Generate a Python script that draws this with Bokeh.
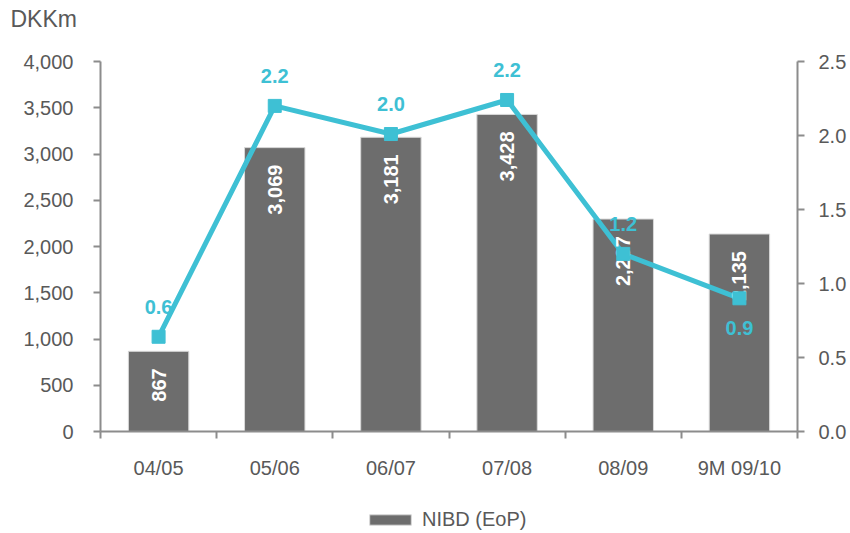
import math
from bokeh.plotting import figure
from bokeh.models import (Range1d, LinearAxis, FixedTicker, Legend, LegendItem,
                          ColumnDataSource, Label, NumeralTickFormatter)
from bokeh.core.properties import value
from bokeh.embed import file_html
from bokeh.resources import INLINE

categories = ["04/05", "05/06", "06/07", "07/08", "08/09", "9M 09/10"]
nibd = [867, 3069, 3181, 3428, 2297, 2135]
ratio = [0.64, 2.2, 2.01, 2.24, 1.2, 0.9]
ratio_labels = ["0.6", "2.2", "2.0", "2.2", "1.2", "0.9"]
ratio_label_below = [False, False, False, False, False, True]
left_ticks = [0, 500, 1000, 1500, 2000, 2500, 3000, 3500, 4000]
right_ticks = [0.0, 0.5, 1.0, 1.5, 2.0, 2.5]
left_max = 4000
right_max = 2.5

BAR = "#6d6d6d"
LINE = "#3ec0d4"
TXT = "#595959"
AX = "#8c8c8c"
FONT = "Liberation Sans"

n = len(categories)
xc = [i + 0.5 for i in range(n)]

# whole canvas is the frame; axes are drawn at fixed data locations inside it
W, H = 850, 533
PL, PR, PT, PB = 100, 797, 61, 431   # plot-area edges in pixels
xs = (PR - PL) / n
ys_l = (PB - PT) / left_max
ys_r = (PB - PT) / right_max

p = figure(width=W, height=H, frame_width=W, frame_height=H,
           output_backend="svg", toolbar_location=None,
           x_range=Range1d(-PL / xs, (W - PL) / xs),
           y_range=Range1d(-(H - PB) / ys_l, PB / ys_l),
           min_border=0)
p.outline_line_color = None
p.xgrid.visible = False
p.ygrid.visible = False
p.background_fill_color = "white"
p.border_fill_color = "white"

p.extra_y_ranges = {"r": Range1d(-(H - PB) / ys_r, PB / ys_r)}

bar_src = ColumnDataSource(dict(x=xc, top=nibd, lab=[f"{v:,}" for v in nibd]))
bars = p.vbar(x="x", top="top", width=0.52, source=bar_src, fill_color=BAR,
              line_color="#d9d9d9", line_width=1)

line_src = ColumnDataSource(dict(x=xc, y=ratio, lab=ratio_labels,
                                 off=[30 if b else -30 for b in ratio_label_below]))
p.line(x="x", y="y", source=line_src, y_range_name="r", line_color=LINE, line_width=5)

p.text(x="x", y="top", text="lab", source=bar_src, angle=math.pi / 2,
       text_align="right", text_baseline="middle", y_offset=17,
       text_color="white", text_font=value(FONT), text_font_size="20px",
       text_font_style="bold")

p.scatter(x="x", y="y", source=line_src, y_range_name="r", marker="square", size=13,
          fill_color=LINE, line_color=LINE)
p.text(x="x", y="y", text="lab", source=line_src, y_range_name="r", y_offset="off",
       text_align="center", text_baseline="middle", text_color=LINE,
       text_font=value(FONT), text_font_size="20px", text_font_style="bold")

def style(ax):
    ax.axis_line_color = AX
    ax.axis_line_width = 2
    ax.major_tick_line_color = AX
    ax.major_tick_line_width = 2
    ax.major_tick_out = 7
    ax.major_tick_in = 0
    ax.minor_tick_line_color = None
    ax.major_label_text_color = TXT
    ax.major_label_text_font = FONT
    ax.major_label_text_font_size = "20px"

# left axis
ly = p.yaxis[0]
style(ly)
ly.ticker = FixedTicker(ticks=left_ticks)
ly.formatter = NumeralTickFormatter(format="0,0")
ly.major_label_standoff = 20
ly.fixed_location = 0
ly.bounds = (0, left_max)

# right axis
ry = LinearAxis(y_range_name="r", ticker=FixedTicker(ticks=right_ticks),
                formatter=NumeralTickFormatter(format="0.0"))
style(ry)
ry.major_label_standoff = 14
ry.fixed_location = n
ry.bounds = (0, right_max)
p.add_layout(ry, "right")

# bottom axis: labels at centers, ticks at boundaries
bx = p.xaxis[0]
style(bx)
bx.ticker = FixedTicker(ticks=xc, minor_ticks=list(range(n + 1)))
bx.major_label_overrides = {x: c for x, c in zip(xc, categories)}
bx.major_tick_line_color = None
bx.minor_tick_line_color = AX
bx.minor_tick_line_width = 2
bx.minor_tick_out = 7
bx.minor_tick_in = 0
bx.major_label_standoff = 18
bx.fixed_location = 0
bx.bounds = (0, n)

legend = Legend(items=[LegendItem(label="NIBD (EoP)", renderers=[bars])],
                orientation="horizontal", location=(364, 2),
                label_text_font=FONT, label_text_font_size="20px",
                label_text_color=TXT, glyph_width=52, glyph_height=13,
                label_height=22, border_line_color=None, background_fill_alpha=0,
                margin=0, padding=0, label_standoff=6)
p.add_layout(legend)

p.add_layout(Label(x=10, y=H - 18, x_units="screen", y_units="screen", text="DKKm",
                   text_font=FONT, text_font_size="23px", text_color=TXT,
                   text_baseline="middle", text_align="left"))

open("out.html", "w").write(file_html(p, INLINE))
